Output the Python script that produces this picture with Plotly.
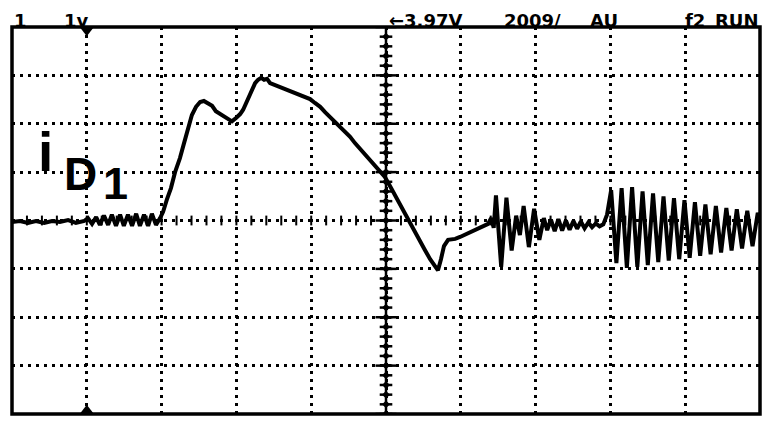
import numpy as np
import plotly.graph_objects as go

# ---- data (time in ns, 200 ns/div; voltage in V, 1 V/div) ----
time_ns = [
    0, 21, 43, 64, 86, 107, 128, 150, 171, 193,
    203, 214, 225, 235, 246, 257, 267, 278, 289, 299, 310, 321, 332, 342, 353, 364, 374, 385, 396,
    404, 414, 425, 436, 449, 460, 471, 481, 492, 503, 513, 524, 535, 545, 556, 567, 578, 588, 599,
    610, 618, 626, 634, 642, 650, 658, 666, 674, 682, 690, 703, 717, 730, 743, 757, 770, 783, 797,
    810, 824, 837, 850, 864, 877, 890, 904, 917, 931, 944, 957, 971, 984, 997, 1011, 1024, 1038,
    1051, 1064, 1078, 1091, 1104, 1118, 1131, 1139, 1147, 1155, 1166, 1185, 1198, 1214, 1230, 1246,
    1262, 1273,
    1281, 1288, 1294, 1308, 1322, 1336, 1348, 1358, 1368, 1382, 1396, 1410, 1422, 1431,
    1441, 1451, 1461, 1471, 1481, 1491, 1501, 1511, 1521, 1531, 1541, 1551, 1561, 1571, 1581,
    1591, 1602, 1616, 1630, 1644, 1658, 1672, 1686, 1700, 1714, 1728, 1742, 1756, 1770, 1784,
    1798, 1812, 1826, 1840, 1854, 1868, 1882, 1896, 1910, 1924, 1938, 1952, 1966, 1980, 1994, 2000,
]
current_v = [
    -0.03, -0.01, -0.05, -0.01, -0.05, -0.01, -0.03, 0.01, -0.05, -0.01,
    0.05, -0.07, 0.07, -0.09, 0.10, -0.09, 0.12, -0.11, 0.12, -0.11, 0.12, -0.11, 0.14, -0.11, 0.12, -0.11, 0.14, -0.09, 0.05,
    0.18, 0.43, 0.67, 1.00, 1.29, 1.60, 1.91, 2.18, 2.35, 2.45, 2.47, 2.43, 2.37, 2.26, 2.20, 2.14, 2.10, 2.05, 2.12,
    2.20, 2.29, 2.43, 2.59, 2.74, 2.84, 2.91, 2.95, 2.91, 2.93, 2.84, 2.80, 2.76, 2.72, 2.67, 2.63, 2.59, 2.55, 2.51,
    2.43, 2.35, 2.24, 2.14, 2.04, 1.93, 1.85, 1.73, 1.60, 1.48, 1.36, 1.23, 1.13, 1.02, 0.90, 0.71, 0.52, 0.32,
    0.14, -0.05, -0.24, -0.42, -0.61, -0.80, -0.94, -1.03, -0.80, -0.53, -0.40, -0.38, -0.34, -0.28, -0.21, -0.15,
    -0.11, -0.07,
    0.05, -0.15, 0.52, -0.96, 0.47, -0.62, 0.10, -0.30, 0.30, -0.55, 0.24, -0.40, 0.05, -0.20,
    0.02, -0.22, 0.03, -0.21, 0.00, -0.19, -0.01, -0.17, -0.02, -0.16, -0.04, -0.14, -0.06, -0.12, -0.08,
    0.12, 0.63, -0.88, 0.67, -0.98, 0.69, -0.96, 0.60, -0.92, 0.56, -0.86, 0.50, -0.83, 0.46, -0.80,
    0.42, -0.77, 0.38, -0.73, 0.33, -0.70, 0.30, -0.66, 0.26, -0.62, 0.23, -0.58, 0.20, -0.53, 0.16, -0.05,
]

header_left = ["1", "1v"]
header_left_ns = [0, 134]
header_right = ["←3.97V", "2009/", "AU", "f2", "RUN"]
header_right_ns = [1003, 1310, 1540, 1794, 1874]

X_RANGE = [0, 2000]
Y_RANGE = [-4, 4]
X_DIV = 200
Y_DIV = 1

fig = go.Figure()

# graticule ticks on the centre lines
minor_v = np.arange(Y_RANGE[0], Y_RANGE[1] + 1e-9, 0.2 * Y_DIV)
major_v = np.arange(Y_RANGE[0], Y_RANGE[1] + 1e-9, Y_DIV)
minor_t = np.arange(X_RANGE[0], X_RANGE[1] + 1e-9, 0.2 * X_DIV)
mid_t = (X_RANGE[0] + X_RANGE[1]) / 2

fig.add_trace(go.Scatter(x=[mid_t] * len(minor_v), y=minor_v, mode="markers",
                         marker=dict(symbol="diamond", size=6, color="black"),
                         hoverinfo="skip", showlegend=False))
fig.add_trace(go.Scatter(x=[mid_t] * len(minor_v), y=minor_v, mode="markers",
                         marker=dict(symbol="line-ew", size=9, line=dict(width=2.5, color="black")),
                         hoverinfo="skip", showlegend=False))
fig.add_trace(go.Scatter(x=[mid_t] * len(major_v), y=major_v, mode="markers",
                         marker=dict(symbol="line-ew", size=15, line=dict(width=2.5, color="black")),
                         hoverinfo="skip", showlegend=False))
fig.add_trace(go.Scatter(x=minor_t, y=[0] * len(minor_t), mode="markers",
                         marker=dict(symbol="line-ns", size=7, line=dict(width=2, color="black")),
                         hoverinfo="skip", showlegend=False))

# trigger markers
fig.add_trace(go.Scatter(x=[X_DIV, X_DIV], y=[Y_RANGE[1] - 0.08, Y_RANGE[0] + 0.08], mode="markers",
                         marker=dict(symbol=["triangle-down", "triangle-up"], size=11, color="black"),
                         cliponaxis=False, hoverinfo="skip", showlegend=False))

# signal
fig.add_trace(go.Scatter(x=time_ns, y=current_v, mode="lines",
                         line=dict(color="black", width=4), hoverinfo="skip", showlegend=False))

# vertical centre line (solid)
fig.add_shape(type="line", x0=mid_t, x1=mid_t, y0=Y_RANGE[0], y1=Y_RANGE[1],
              line=dict(color="black", width=2.5))
# frame
fig.add_shape(type="rect", xref="paper", yref="paper", x0=0, x1=1, y0=0, y1=1,
              line=dict(color="black", width=3.5))

hdr_font = dict(family="DejaVu Sans", size=18, color="black")
for txt, xv in zip(header_left + header_right, header_left_ns + header_right_ns):
    fig.add_annotation(x=xv, y=1, xref="x", yref="paper", text="<b>" + txt + "</b>",
                       showarrow=False, xanchor="left", yanchor="bottom", yshift=-6,
                       font=hdr_font)

lbl = dict(family="Liberation Sans", color="black")
fig.add_annotation(x=64, y=1.42, xref="x", yref="y", text="<b>i</b>", showarrow=False,
                   xanchor="left", yanchor="middle", font=dict(size=55, **lbl))
fig.add_annotation(x=134, y=0.97, xref="x", yref="y", text="<b>D</b>", showarrow=False,
                   xanchor="left", yanchor="middle", font=dict(size=46, **lbl))
fig.add_annotation(x=238, y=0.76, xref="x", yref="y", text="<b>1</b>", showarrow=False,
                   xanchor="left", yanchor="middle", font=dict(size=45, **lbl))

grid = dict(showgrid=True, gridcolor="black", gridwidth=2.5, griddash="3px,5px",
            zeroline=False, showticklabels=False, ticks="", showline=False, fixedrange=True)
fig.update_xaxes(range=X_RANGE, dtick=X_DIV, tick0=0, **grid)
fig.update_yaxes(range=Y_RANGE, dtick=Y_DIV, tick0=0, **grid)

# page body has an 8px margin, so the figure is sized/offset to put the screen at 12..760 x 27..414
fig.update_layout(width=764, height=414, margin=dict(l=4, r=12, t=19, b=8),
                  paper_bgcolor="white", plot_bgcolor="white", showlegend=False)

fig.write_html("out.html")
